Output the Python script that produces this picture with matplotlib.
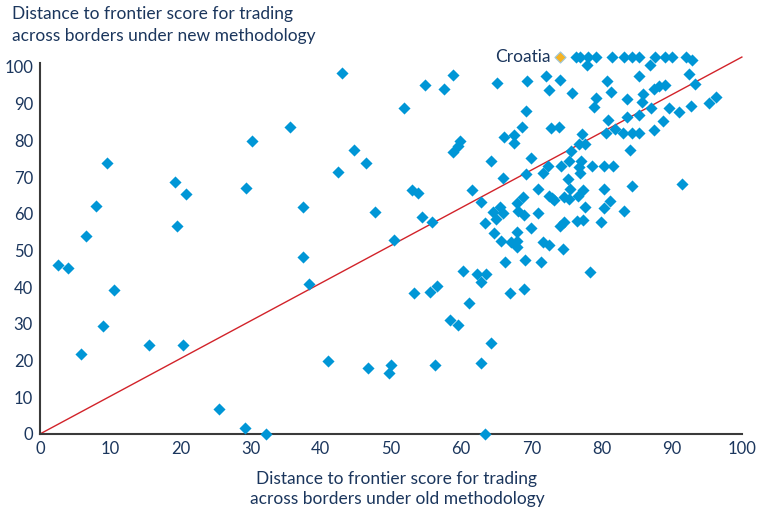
import matplotlib
matplotlib.use("Agg")
import matplotlib.pyplot as plt

plt.rcParams['font.family'] = ['Lato', 'DejaVu Sans']

# scores (old methodology -> new methodology)
old_score = [
    # left part
    9.6, 19.3, 20.8, 29.4, 30.2, 8.0, 19.5, 6.6, 2.6, 4.0, 10.6, 9.0, 5.8, 15.5, 20.4,
    37.5, 37.5, 38.3, 25.5, 29.2, 32.2, 35.6,
    # middle
    43.0, 54.8, 57.6, 58.9, 65.1, 51.9, 44.7, 46.4, 42.4, 59.9, 59.6, 58.8, 64.3, 53.0,
    53.8, 47.8, 54.5, 55.8, 61.5, 62.9, 50.4, 60.2, 62.3, 63.5, 62.9, 53.3, 55.5, 56.6,
    61.1, 58.4, 59.6, 64.2, 41.0, 46.8, 50.0, 49.7, 56.3, 62.9, 63.4,
    # top row
    76.3, 77.0, 78.1, 79.2, 81.5, 83.2, 84.3, 85.4, 87.6, 89.0, 90.1, 92.1, 92.9,
    # right cluster
    77.9, 86.9, 92.5, 93.3, 69.4, 72.1, 74.1, 80.8, 85.4, 72.5, 75.8, 81.3, 79.2, 79.0,
    83.6, 85.9, 85.8, 87.5, 88.2, 89.1, 87.1, 89.6, 91.1, 92.7, 95.3, 96.3, 69.3, 68.7,
    66.1, 67.6, 67.6, 72.8, 74.0, 69.9, 80.9, 81.9, 80.6, 83.0, 84.4, 85.4, 87.5, 88.8,
    84.0, 77.2, 76.8, 77.7, 75.6, 75.4, 77.1, 78.6, 80.4, 81.7, 76.8, 74.2, 72.4,
    66.0, 69.3, 71.6, 76.9, 84.3, 91.5, 75.3, 71.0, 75.5, 77.4, 80.4, 68.8, 68.0, 72.5,
    72.9, 73.2, 74.7, 75.4, 76.7, 77.6, 80.4, 81.2, 83.2, 80.0, 76.5, 77.3, 74.1, 74.6,
    65.6, 64.6, 65.9, 65.0, 63.4, 68.1, 68.9, 70.9, 70.0, 64.7, 68.0, 65.7, 67.1, 68.0,
    68.0, 71.7, 72.5, 74.5, 66.3, 69.1, 71.4, 78.3, 67.0, 69.0, 83.6, 85.3,
]
new_score = [
    73.8, 68.7, 65.5, 66.9, 79.8, 62.2, 56.8, 54.0, 46.0, 45.3, 39.1, 29.4, 21.7, 24.3, 24.3,
    61.8, 48.1, 40.8, 6.7, 1.6, 0.0, 83.7,
    98.3, 95.2, 94.0, 97.8, 95.6, 88.9, 77.4, 73.8, 71.5, 79.8, 78.4, 76.8, 74.5, 66.5,
    65.7, 60.4, 59.2, 57.8, 66.5, 63.2, 52.9, 44.3, 43.6, 43.6, 41.4, 38.5, 38.6, 40.3,
    35.8, 31.1, 29.6, 24.9, 19.8, 18.0, 18.9, 16.5, 18.9, 19.4, 0.0,
    102.6, 102.6, 102.6, 102.6, 102.6, 102.6, 102.6, 102.6, 102.6, 102.6, 102.6, 102.6, 102.0,
    100.4, 100.4, 98.2, 95.3, 96.2, 97.5, 96.5, 96.3, 97.5, 93.7, 93.0, 93.3, 91.5, 89.2,
    91.2, 92.6, 90.4, 94.1, 94.7, 95.1, 88.7, 88.8, 87.6, 89.5, 90.2, 91.7, 87.9, 83.7,
    80.8, 81.5, 79.4, 83.5, 83.7, 75.3, 85.5, 83.0, 82.1, 82.1, 82.1, 82.1, 82.7, 85.2,
    77.5, 81.7, 79.0, 78.9, 77.1, 74.3, 74.3, 72.9, 72.9, 72.9, 72.8, 72.9, 72.9,
    69.8, 70.8, 71.0, 71.0, 67.7, 68.2, 69.5, 66.8, 66.8, 66.5, 66.7, 64.7, 62.9, 64.9,
    64.4, 63.8, 64.5, 64.0, 64.8, 61.8, 61.7, 63.4, 60.8, 57.7, 57.9, 58.3, 56.7, 57.8,
    61.9, 60.5, 60.1, 58.5, 57.4, 60.8, 59.8, 60.2, 56.2, 54.7, 55.0, 52.5, 52.4, 52.6,
    50.9, 52.4, 51.4, 50.4, 46.8, 47.5, 46.9, 44.0, 38.3, 39.4, 86.5, 86.9,
]

croatia_old = 74.1
croatia_new = 102.6

# red reference line as drawn on the chart
line_x = [0, 100]
line_y = [0, 102.7]

ticks = list(range(0, 101, 10))

navy = '#1B365D'
blue = '#0096D6'

fig = plt.figure(figsize=(7.57, 5.08), dpi=100)
ax = fig.add_axes([0.0528, 0.1457, 0.9272, 0.7297])

ax.plot(line_x, line_y, color='#D2232A', lw=1.0, clip_on=False, zorder=2)
ax.scatter(old_score, new_score, marker='D', s=38, color=blue, linewidths=0,
           clip_on=False, zorder=3)
ax.scatter([croatia_old], [croatia_new], marker='D', s=32, color='#F5B324',
           edgecolors='#9CC7DD', linewidths=0.8, clip_on=False, zorder=4)
ax.annotate('Croatia', (croatia_old, croatia_new), xytext=(-7, 0),
            textcoords='offset points', ha='right', va='center',
            fontsize=12.5, color=navy, annotation_clip=False)

ax.set_xlim(0, 100)
ax.set_ylim(0, 101)
ax.set_xticks(ticks)
ax.set_yticks(ticks)
ax.tick_params(length=0, labelsize=12, labelcolor=navy, pad=5)
for side in ['top', 'right']:
    ax.spines[side].set_visible(False)
for side in ['left', 'bottom']:
    ax.spines[side].set_color('#3A3A3A')
    ax.spines[side].set_linewidth(1.5)

fig.text(12 / 757, 1 - 6 / 508,
         'Distance to frontier score for trading\nacross borders under new methodology',
         ha='left', va='top', fontsize=12.5, color=navy, linespacing=1.45)
fig.text(397 / 757, 1 - 471 / 508,
         'Distance to frontier score for trading\nacross borders under old methodology',
         ha='center', va='top', fontsize=12.5, color=navy, linespacing=1.3)

fig.savefig('out.png', dpi=100)
